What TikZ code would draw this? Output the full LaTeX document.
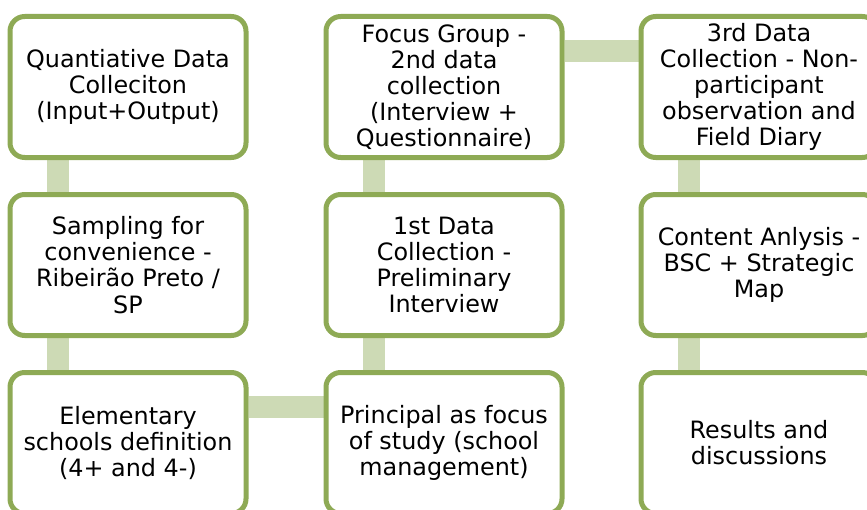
\documentclass[tikz,border=0pt]{standalone}
\usepackage{fontspec}
\setmainfont{DejaVu Sans}
\usetikzlibrary{backgrounds}

\definecolor{stageline}{HTML}{8EAA55}
\definecolor{stagelink}{HTML}{CDDAB5}

\tikzset{
  stage/.style={draw=stageline, line width=3.75pt, fill=white, rounded corners=11pt,
    minimum width=177pt, minimum height=105.75pt, inner sep=0pt, align=center,
    font=\fontsize{17.9}{19.6}\selectfont},
  link/.style={draw=stagelink, line width=16.5pt},
  down/.style={xshift=37.5pt},
  across/.style={yshift=-27.75pt}
}

\begin{document}
\begin{tikzpicture}[x=0.75pt, y=-0.75pt]
\path[use as bounding box, clip] (0,0) rectangle (867,510);
% first column, going down
\node[stage] (quant) at (128,87) {Quantiative Data\\Colleciton\\(Input+Output)};
\node[stage] (sampling) at (128,265) {Sampling for\\convenience -\\Ribeirão Preto /\\SP};
\node[stage] (schools) at (128,443) {Elementary\\schools definition\\(4+ and 4-)};
% second column, going up
\node[stage] (principal) at (444,443) {Principal as focus\\of study (school\\management)};
\node[stage] (first) at (444,265) {1st Data\\Collection -\\Preliminary\\Interview};
\node[stage] (focus) at (444,87) {Focus Group -\\2nd data\\collection\\(Interview +\\Questionnaire)};
% third column, going down
\node[stage] (third) at (759,87) {3rd Data\\Collection - Non-\\participant\\observation and\\Field Diary};
\node[stage] (content) at (759,265) {Content Anlysis -\\BSC + Strategic\\Map};
\node[stage] (results) at (759,443) {Results and\\discussions};

\begin{scope}[on background layer]
\draw[link] ([down]quant.south west) -- ([down]sampling.north west);
\draw[link] ([down]sampling.south west) -- ([down]schools.north west);
\draw[link] ([across]schools.north east) -- ([across]principal.north west);
\draw[link] ([down]principal.north west) -- ([down]first.south west);
\draw[link] ([down]first.north west) -- ([down]focus.south west);
\draw[link] ([across]focus.north east) -- ([across]third.north west);
\draw[link] ([down]third.south west) -- ([down]content.north west);
\draw[link] ([down]content.south west) -- ([down]results.north west);
\end{scope}
\end{tikzpicture}
\end{document}
